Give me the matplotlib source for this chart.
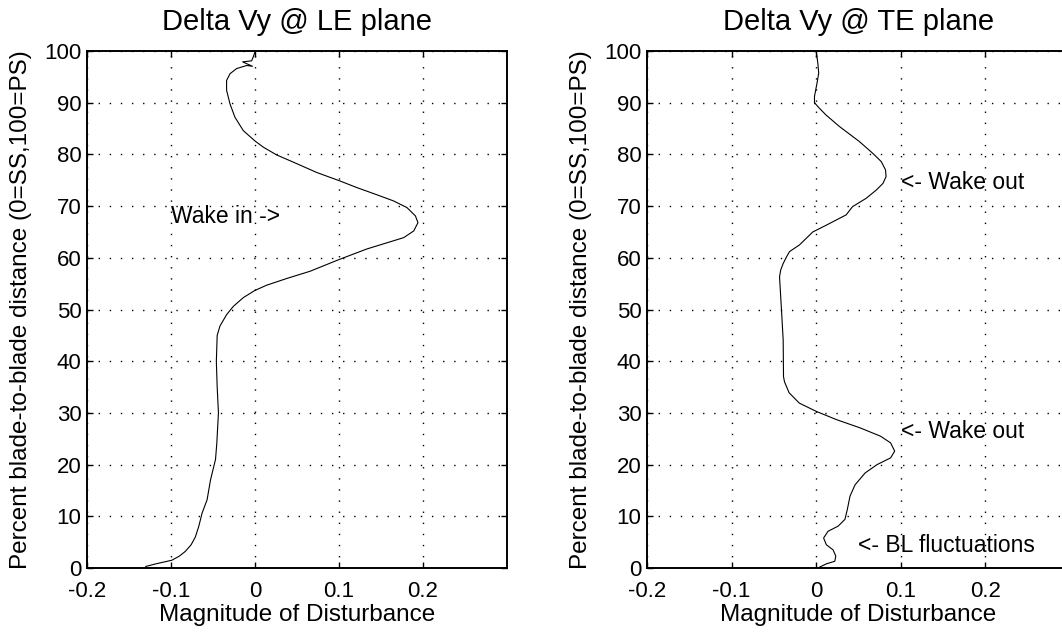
import matplotlib
matplotlib.use('Agg')
import matplotlib.pyplot as plt
import numpy as np

plt.rcParams['font.family'] = ['Liberation Sans', 'DejaVu Sans']

## LE plane: blade-to-blade position (%) and disturbance magnitude ##
le_pos = [0.3, 0.8, 1.5, 2.3, 3.2, 4.5, 6.0, 8.0, 10.6, 13.2, 17.0, 21.0, 24.0,
          30.0, 35.0, 40.0, 45.0, 46.8, 49.0, 50.6, 52.3, 53.7, 54.7, 56.0, 57.4,
          59.7, 61.7, 62.9, 63.9, 65.2, 66.8, 68.1, 69.7, 71.0, 72.2, 73.6, 74.9,
          76.5, 78.5, 79.9, 81.4, 82.6, 84.6, 87.2, 89.8, 92.4, 94.3, 95.6, 96.6,
          97.2, 97.05, 97.9, 98.1, 98.9, 99.8]
le_mag = [-0.130, -0.118, -0.099, -0.090, -0.083, -0.076, -0.071, -0.067, -0.063,
          -0.057, -0.053, -0.047, -0.0455, -0.0435, -0.045, -0.046, -0.045,
          -0.0417, -0.0338, -0.0258, -0.0139, 0.0, 0.0139, 0.0378, 0.0656, 0.1006,
          0.133, 0.157, 0.177, 0.189, 0.194, 0.191, 0.181, 0.165, 0.145, 0.121,
          0.1006, 0.0736, 0.0457, 0.0258, 0.0099, 0.0, -0.0139, -0.0239, -0.0298,
          -0.0338, -0.0338, -0.0298, -0.0219, -0.0099, -0.003, -0.0147, -0.004,
          -0.002, 0.0]

## TE plane ##
te_pos = [0.0, 0.8, 1.3, 2.3, 3.5, 4.5, 5.8, 7.1, 8.1, 9.4, 11.3, 13.9, 16.1,
          18.4, 20.0, 21.3, 22.6, 24.2, 25.5, 27.1, 28.7, 30.3, 31.9, 33.9, 36.0,
          37.0, 44.1, 49.9, 56.3, 57.6, 58.9, 60.2, 61.2, 62.5, 65.0, 66.3, 68.3,
          69.9, 71.5, 73.1, 74.4, 75.7, 77.0, 78.6, 80.2, 82.5, 85.4, 87.6, 88.9,
          90.0, 91.2, 93.8, 95.7, 97.6, 100.0]
te_mag = [0.002, 0.012, 0.022, 0.0232, 0.020, 0.012, 0.0088, 0.014, 0.026, 0.034,
          0.0368, 0.040, 0.046, 0.058, 0.072, 0.088, 0.0928, 0.088, 0.076, 0.052,
          0.024, 0.0, -0.020, -0.032, -0.0374, -0.0386, -0.039, -0.041, -0.0433,
          -0.042, -0.039, -0.035, -0.0315, -0.0197, -0.004, 0.0118, 0.0354, 0.043,
          0.059, 0.071, 0.079, 0.0826, 0.082, 0.077, 0.067, 0.051, 0.0275, 0.0118,
          0.004, -0.002, -0.002, 0.001, 0.003, 0.002, 0.0]

titles = ['Delta Vy @ LE plane', 'Delta Vy @ TE plane']
xlabel = 'Magnitude of Disturbance'
ylabel = 'Percent blade-to-blade distance (0=SS,100=PS)'
xticks = [-0.2, -0.1, 0, 0.1, 0.2]
xticklabels = ['-0.2', '-0.1', '0', '0.1', '0.2']
yticks = list(range(0, 101, 10))

# notes: (text, x, y)
le_notes = [('Wake in ->', -0.1, 68)]
te_notes = [('<- Wake out', 0.1, 74.5), ('<- Wake out', 0.1, 26.4),
            ('<- BL fluctuations', 0.05, 4.3)]

fig = plt.figure(figsize=(10.62, 6.33), dpi=100)
ax1 = fig.add_axes([0.0819, 0.1027, 0.3955, 0.8167])
ax2 = fig.add_axes([0.6092, 0.1027, 0.3983, 0.8167])

for ax, mag, pos, title, notes in [(ax1, le_mag, le_pos, titles[0], le_notes),
                                   (ax2, te_mag, te_pos, titles[1], te_notes)]:
    ax.plot(mag, pos, color='black', lw=0.8)
    ax.set_xlim(-0.2, 0.3)
    ax.set_ylim(0, 100)
    ax.set_xticks(xticks)
    ax.set_xticklabels(xticklabels)
    ax.set_yticks(yticks)
    ax.grid(True, color='black', linestyle=(0, (1, 7)), lw=1.0)
    ax.tick_params(direction='in', length=4, width=1, top=True, right=True,
                   labelsize=16)
    ax.tick_params(axis='x', pad=9.5)
    ax.tick_params(axis='y', pad=4)
    for sp in ax.spines.values():
        sp.set_linewidth(1.4)
    ax.set_title(title, fontsize=21, pad=15)
    ax.set_xlabel(xlabel, fontsize=17.5, labelpad=1)
    ax.set_ylabel(ylabel, fontsize=17.5)
    ax.yaxis.set_label_coords(-0.13, 0.5)
    for txt, x, y in notes:
        ax.text(x, y, txt, fontsize=16.5, va='center', ha='left')

fig.savefig('out.png', dpi=100)
